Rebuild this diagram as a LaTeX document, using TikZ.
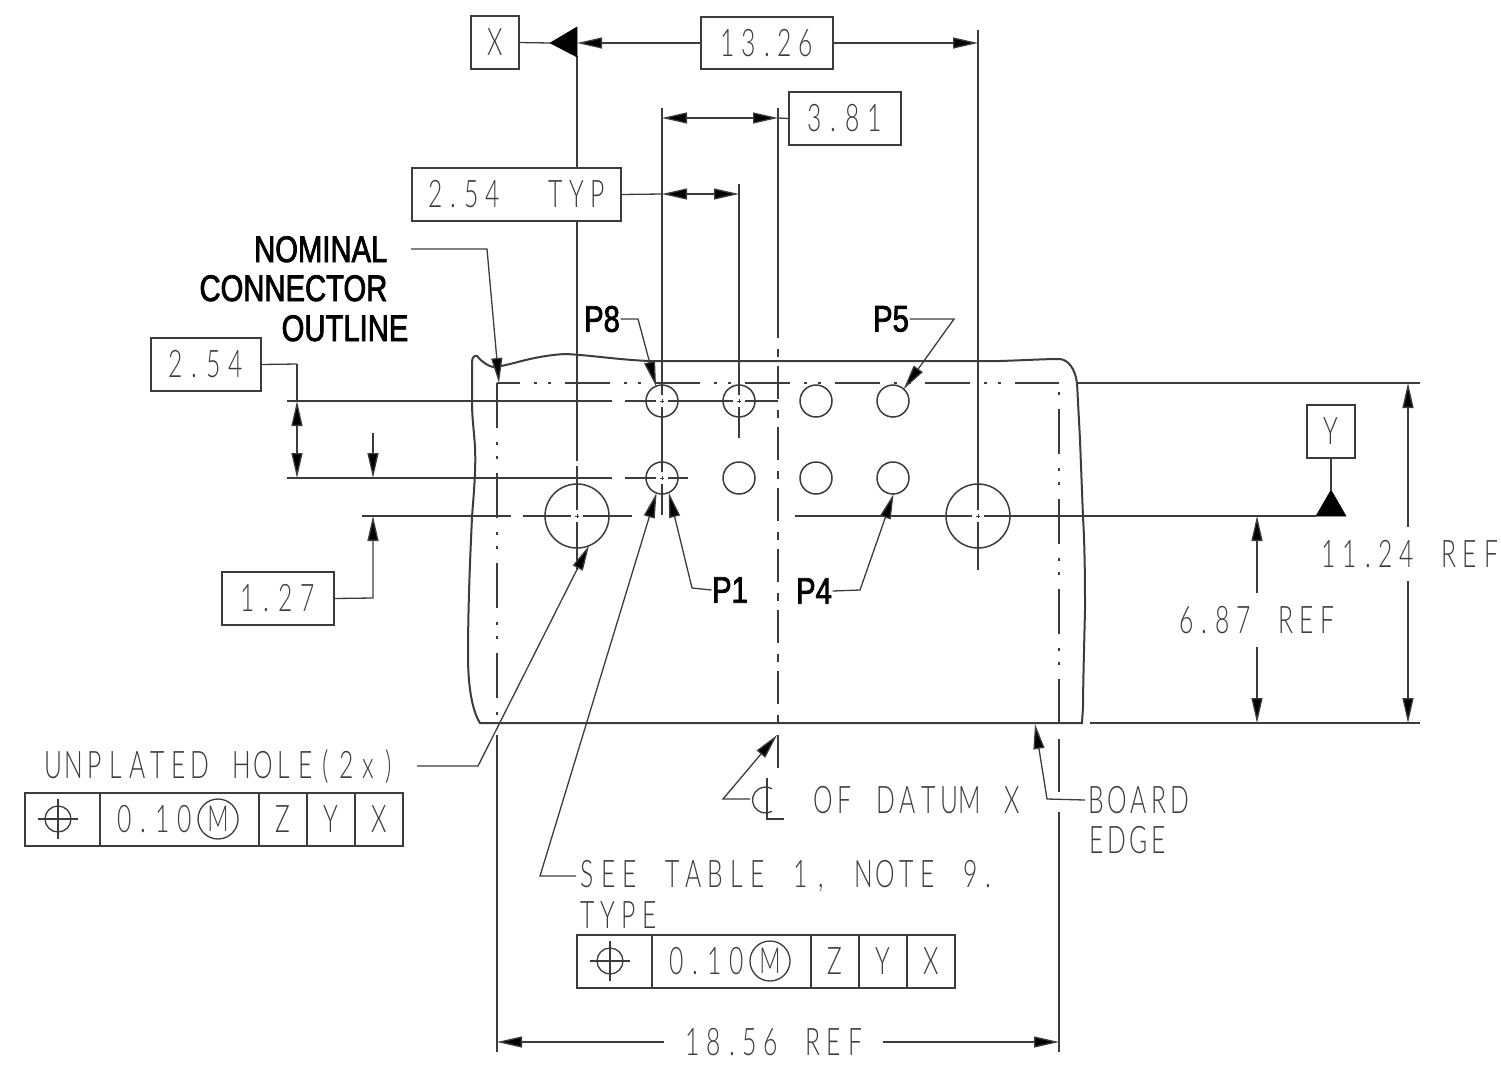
\documentclass[tikz,border=0pt]{standalone}
\usepackage{fontspec}
\usetikzlibrary{arrows.meta}
\newfontfamily\cad{Lato}[UprightFont=* Light,FakeStretch=0.65]
\newfontfamily\lab{Liberation Sans}[FakeStretch=0.79,FakeBold=2]
\definecolor{ink}{HTML}{3C3C3C}
\newdimen\monopitch \monopitch=21pt
\def\monoloop#1{\ifx#1\relax\else\ifx#1.\makebox[15pt]{#1}\else\makebox[\monopitch]{#1}\fi\expandafter\monoloop\fi}
\def\mono#1{\monoloop#1\relax}
\def\monow#1{{\monopitch=22.5pt\monoloop#1\relax}}
\tikzset{
  x=1pt,y=-1pt,
  every path/.style={line width=1.3pt,color=ink},
  tip/.style={-{Triangle[length=25pt,width=11pt,fill=black]}},
  tips/.style={{Triangle[length=25pt,width=11pt,fill=black]}-{Triangle[length=25pt,width=11pt,fill=black]}},
  cadtxt/.style={inner sep=0,font=\cad\fontsize{38}{44}\selectfont,text=ink},
  labtxt/.style={inner sep=0,font=\lab\fontsize{37}{40}\selectfont,text=black},
  framebox/.style={draw,rectangle,inner sep=0,outer sep=0,font=\cad\fontsize{38}{44}\selectfont,text=ink},
  hole/.style={draw,circle,inner sep=0,outer sep=0,minimum size=32pt,line width=1.5pt},
  bighole/.style={draw,circle,inner sep=0,outer sep=0,minimum size=64pt,line width=1.5pt},
  phantom/.style={dash pattern=on 45pt off 14pt on 3pt off 11pt on 3pt off 14pt},
  centerl/.style={dash pattern=on 33pt off 11pt on 8pt off 9pt},
  solidtri/.style={fill=black,draw=black,line width=.5pt}
}
\begin{document}
\begin{tikzpicture}
\useasboundingbox (0,0) rectangle (1501,1066);
% holes
\node[hole] (h8) at (662,401) {};
\node[hole] (h7) at (739,401) {};
\node[hole] (h6) at (816,401) {};
\node[hole] (h5) at (893,401) {};
\node[hole] (h1) at (662,478) {};
\node[hole] (h2) at (739,478) {};
\node[hole] (h3) at (816,478) {};
\node[hole] (h4) at (893,478) {};
\node[bighole] (bl) at (577,516) {};
\node[bighole] (br) at (978,516) {};
% board
\draw[line width=2pt] (480,723) .. controls (473,712) and (468,690) .. (468,655)
 .. controls (468,600) and (471,540) .. (472,517)
 .. controls (474,490) and (476,470) .. (475,447)
 .. controls (474,430) and (472,420) .. (472,400)
 -- (472,362) .. controls (472,357) and (475,355) .. (477,356)
 .. controls (482,362) and (488,366) .. (493,367)
 .. controls (510,366) and (530,356) .. (565,354)
 .. controls (590,355) and (620,360) .. (650,361)
 -- (1000,361) .. controls (1030,360) and (1045,359) .. (1060,359)
 .. controls (1068,360) and (1075,368) .. (1077,383)
 -- (1080,440) -- (1083,517) .. controls (1085,550) and (1085,590) .. (1085,610)
 .. controls (1084,650) and (1083,690) .. (1083,707) -- (1082,723) -- cycle;
% nominal outline
\coordinate (nTL) at (497,383); \coordinate (nTR) at (1059,383);
\coordinate (nBL) at (497,723); \coordinate (nBR) at (1059,723);
\draw[phantom] (nTL) -- (nBL);
\draw[phantom,dash phase=22pt] (nTL) -- (nTR);
\draw[phantom,dash phase=73pt] (1059,392) -- (nBR);
\draw (497,735) -- (497,1052);
\draw (1059,739) -- (1059,792) (1059,812) -- (1059,1052);
% horizontal centre lines
\draw (287,401) -- (612,401) (625,401) -- (778,401);
\draw (287,478) -- (612,478) (625,478) -- (688,478);
\draw (362,516) -- (511,516) (523,516) -- (632,516);
\draw (795,516) -- (1316,516);
% 2.54 TYP box position needed for the break in the x=577 line
\draw (577,56) -- (577,167) (577,221) -- (577,461) (577,466) -- (577,570);
\draw (662,108) -- (662,515);
\draw (739,184) -- (739,438);
\draw (978,30) -- (978,570);
\draw (778,108) -- (778,338);
\draw[centerl,dash phase=44pt] (778,349) -- (778,723);
\draw (778,735) -- (778,768);
% centre marks
\foreach \c in {h8,h7,h1,bl,br}{
  \fill[white] (\c.center) +(-6,-6) rectangle +(6,6);
  \draw[line width=1pt] (\c.center) +(-2,0) -- +(2,0) (\c.center) +(0,-2) -- +(0,2);
}
% extension lines
\draw (1077,383) -- (1420,383);
\draw (1090,723) -- (1420,723);
% X datum
\node[framebox,minimum width=48pt,minimum height=53pt] (dx) at (495,42.5) {X};
\coordinate (xt) at (550,43);
\draw (dx.east) -- (xt);
\draw[solidtri] (xt) -- (577,27) -- (577,57) -- cycle;
% 13.26
\node[framebox,minimum width=132pt,minimum height=52pt] (d1326) at (767,43) {\mono{13.26}};
\draw[tip] (d1326.west) -- (577,43);
\draw[tip] (d1326.east) -- (978,43);
% 3.81
\node[framebox,minimum width=112pt,minimum height=53pt] (d381) at (845,118.5) {\monow{3.81}};
\draw[tips] (662,118) -- (778,118);
\draw (778,118) -- (d381.west);
% 2.54 TYP
\node[framebox,minimum width=209pt,minimum height=53pt] (d254t) at (516.5,194.5) {\mono{2.54~~TYP}};
\coordinate (a254) at (662,194);\coordinate (b254) at (739,194);
\draw[tips] (a254) -- (b254);
\draw (d254t.east) -- (a254);
% NOMINAL
\node[labtxt,anchor=base east] (nom) at (388,262) {NOMINAL};
\node[labtxt,anchor=base east] (nom1) at (388,301) {CONNECTOR};
\node[labtxt,anchor=base east] (nom2) at (409,341) {OUTLINE};
\coordinate (nn) at (411,249);\coordinate (nb) at (487,249);
\draw[tip] (nn) -- (nb) -- (499,383);
% 2.54
\node[framebox,minimum width=110pt,minimum height=53pt] (d254) at (206,364.5) {\monow{2.54}};
\coordinate (d1) at (297,364);
\draw (d254.east) -- (d1);
\draw[tips] (297,401) -- (297,478);
\draw (d1) -- (297,401);
% 1.27
\node[framebox,minimum width=112pt,minimum height=53pt] (d127) at (278,598.5) {\monow{1.27}};
\coordinate (d2) at (373,598);
\draw[tip] (373,433) -- (373,478);
\draw[tip] (d127.east) -- (d2) -- (373,516);
% pin labels
\node[labtxt] (p8) at (602,319) {P8};
\node[labtxt] (p5) at (891,319) {P5};
\node[labtxt] (p1) at (730,590) {P1};
\node[labtxt] (p4) at (814,591) {P4};
\coordinate (b8) at (638,319);\coordinate (b5) at (954,319);
\coordinate (b1) at (692,588);\coordinate (b4) at (860,590);
\draw[tip] (p8.east) -- (b8) -- (h8.112);
\draw[tip] (p5.east) -- (b5) -- (h5.48);
\draw[tip] (p1.west) -- (b1) -- (h1.-65);
\draw[tip] (p4.east) -- (b4) -- (h4.-88);
% Y datum
\node[framebox,minimum width=48pt,minimum height=53pt] (dy) at (1331,431.5) {Y};
\coordinate (yt) at (1331,490);
\draw (dy.south) -- (yt);
\draw[solidtri] (yt) -- (1346,516) -- (1316,516) -- cycle;
% REF dims
\node[cadtxt] (d687) at (1257,620) {\mono{6.87~REF}};
\draw[tip] (1257,593) -- (1257,516);
\draw[tip] (1257,647) -- (1257,723);
\node[cadtxt] (d1124) at (1410,554) {\mono{11.24~REF}};
\draw[tip] (1408,527) -- (1408,383);
\draw[tip] (1408,581) -- (1408,723);
\node[cadtxt] (d1856) at (774,1042) {\mono{18.56~REF}};
\draw[tip] (664,1042) -- (497,1042);
\draw[tip] (883,1042) -- (1059,1042);
% unplated
\node[cadtxt,anchor=west] (unp) at (42,767) {\mono{UNPLATED~HOLE(2x)}};
\coordinate (ub) at (478,766); \coordinate (un) at (417,766);
\draw[tip] (un) -- (ub) -- (bl.-68);
% FCF 1
\foreach \n/\ox/\oy in {a/25/793,b/577/935}{
  \begin{scope}[shift={(\ox,\oy)}]
  \node[framebox,minimum width=75pt,minimum height=53pt,anchor=north west] (f\n0) at (0,0) {};
  \node[framebox,minimum width=159pt,minimum height=53pt,anchor=north west] (f\n1) at (75,0) {};
  \node[framebox,minimum width=48pt,minimum height=53pt,anchor=north west] (f\n2) at (234,0) {Z};
  \node[framebox,minimum width=48pt,minimum height=53pt,anchor=north west] (f\n3) at (282,0) {Y};
  \node[framebox,minimum width=48pt,minimum height=53pt,anchor=north west] (f\n4) at (330,0) {X};
  \draw (33,26) circle (13);
  \draw (13,26) -- (53,26) (33,6) -- (33,46);
  \node[cadtxt] (f\n t) at (130,26.5) {\monow{0.10}};
  \node[draw,circle,inner sep=0,minimum size=40pt,font=\cad\fontsize{36}{38}\selectfont,text=ink] (f\n m) at (193,26) {M};
  \end{scope}
}
% see table
\monopitch=21.3pt
\node[cadtxt,anchor=west] (see) at (576,876) {\mono{SEE~TABLE~1,~NOTE~9.}};
\monopitch=21pt
\node[cadtxt,anchor=west] (typ) at (576,915) {\mono{TYPE}};
\coordinate (sb) at (540,876);
\draw[tip] (see.west) -- (sb) -- (h1.-110);
% CL
\node[cadtxt,anchor=west] (cl) at (812,800) {\mono{OF~DATUM~X}};
\coordinate (c0) at (723,799);\coordinate (c1) at (750,799);
\draw[tip] (c1) -- (c0) -- (777,735);
\draw (767,778) -- (767,819) -- (784,819);
\draw (772,811.3) arc (60:300:13);
% board edge
\node[cadtxt,anchor=west] (be) at (1085,800) {\mono{BOARD}};
\node[cadtxt,anchor=west] (ee) at (1085,840) {\mono{EDGE}};
\coordinate (bb) at (1047,799);
\draw[tip] (be.west) -- (bb) -- (1035,724);
\end{tikzpicture}
\end{document}
